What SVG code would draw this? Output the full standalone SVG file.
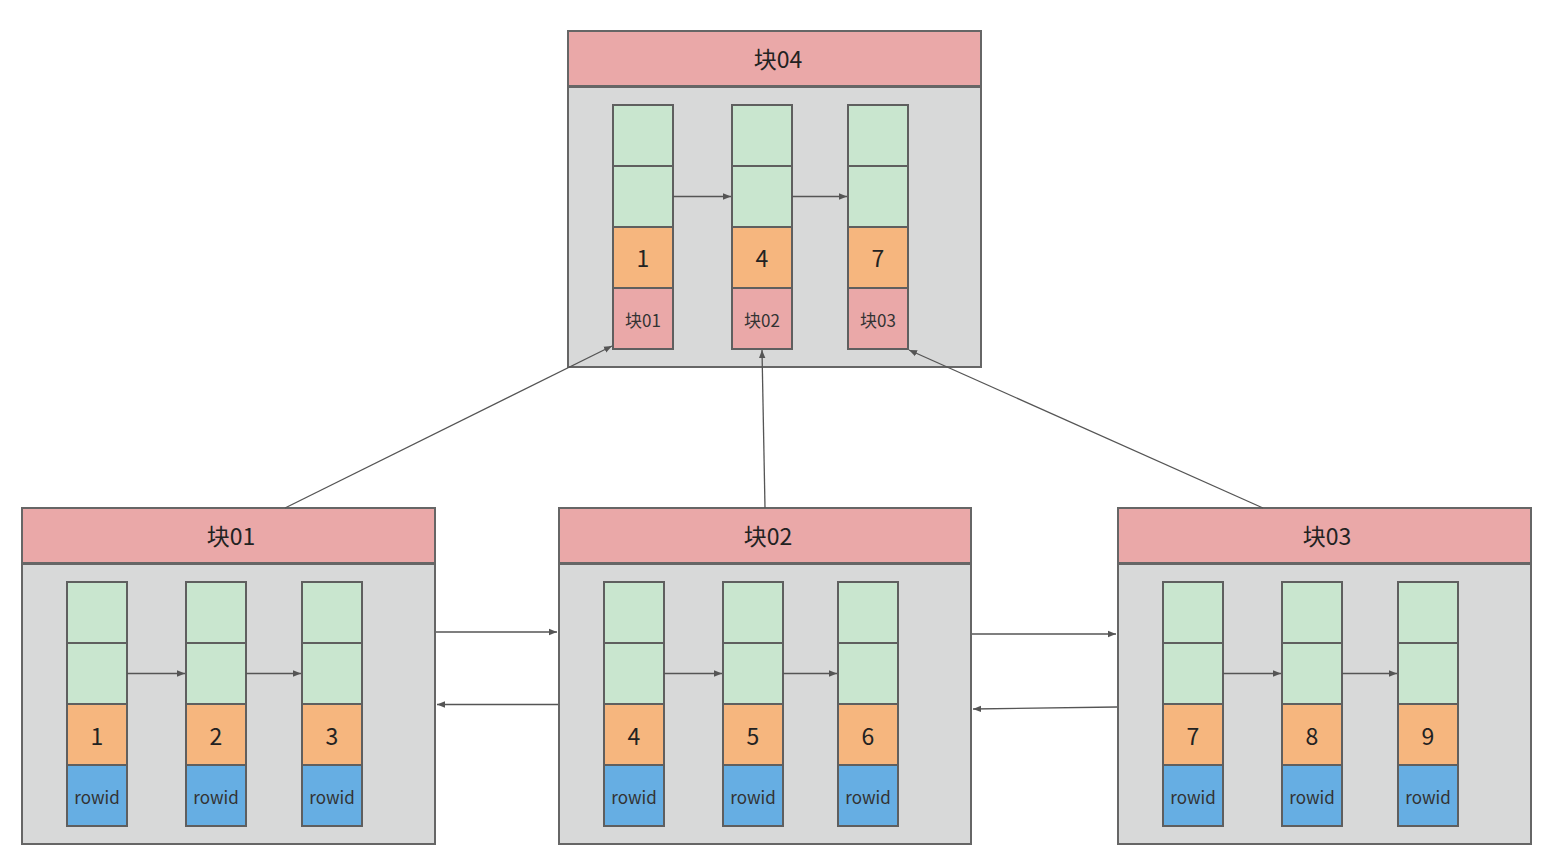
<svg xmlns="http://www.w3.org/2000/svg" width="1552" height="857" viewBox="0 0 1552 857">
<defs>
<style>
.hdr{fill:#eaa8a8;stroke:#666;stroke-width:2}
.body{fill:#d8d9d9;stroke:#666;stroke-width:2}
.g{fill:#c9e6cf;stroke:#5f5f5f;stroke-width:2}
.o{fill:#f6b67e;stroke:#5f5f5f;stroke-width:2}
.b{fill:#66aee3;stroke:#5f5f5f;stroke-width:2}
.p{fill:#eaa8a8;stroke:#5f5f5f;stroke-width:2}
text{font-family:"Noto Sans CJK SC","Noto Sans",sans-serif;fill:#222;text-anchor:middle;dominant-baseline:central}
.t1{font-size:23px}
.t2{font-size:23px}
.t3{font-size:17px;fill:#333}
.ln{stroke:#555;stroke-width:1.3;fill:none;marker-end:url(#ah)}
</style>
<marker id="ah" markerWidth="10" markerHeight="8" refX="8" refY="4" orient="auto" markerUnits="userSpaceOnUse">
<path d="M0,0.8 L8,4 L0,7.2 Z" fill="#555"/>
</marker>
<g id="colG">
<rect class="g" x="0" y="0" width="60" height="61"/>
<rect class="g" x="0" y="61" width="60" height="61"/>
</g>
</defs>

<g id="blk04">
<rect class="hdr" x="568" y="31" width="413" height="55"/>
<text class="t1" x="778" y="58">块04</text>
<rect class="body" x="568" y="87" width="413" height="280"/>
<g transform="translate(613,105)"><use href="#colG"/><rect class="o" x="0" y="122" width="60" height="61"/><rect class="p" x="0" y="183" width="60" height="61"/><text class="t2" x="30" y="152">1</text><text class="t3" x="30" y="214">块01</text></g>
<g transform="translate(732,105)"><use href="#colG"/><rect class="o" x="0" y="122" width="60" height="61"/><rect class="p" x="0" y="183" width="60" height="61"/><text class="t2" x="30" y="152">4</text><text class="t3" x="30" y="214">块02</text></g>
<g transform="translate(848,105)"><use href="#colG"/><rect class="o" x="0" y="122" width="60" height="61"/><rect class="p" x="0" y="183" width="60" height="61"/><text class="t2" x="30" y="152">7</text><text class="t3" x="30" y="214">块03</text></g>
</g>

<g id="blk01">
<rect class="hdr" x="22" y="508" width="413" height="55"/>
<text class="t1" x="231" y="535">块01</text>
<rect class="body" x="22" y="564" width="413" height="280"/>
<g transform="translate(67,582)"><use href="#colG"/><rect class="o" x="0" y="122" width="60" height="61"/><rect class="b" x="0" y="183" width="60" height="61"/><text class="t2" x="30" y="153">1</text><text class="t3" x="30" y="214">rowid</text></g>
<g transform="translate(186,582)"><use href="#colG"/><rect class="o" x="0" y="122" width="60" height="61"/><rect class="b" x="0" y="183" width="60" height="61"/><text class="t2" x="30" y="153">2</text><text class="t3" x="30" y="214">rowid</text></g>
<g transform="translate(302,582)"><use href="#colG"/><rect class="o" x="0" y="122" width="60" height="61"/><rect class="b" x="0" y="183" width="60" height="61"/><text class="t2" x="30" y="153">3</text><text class="t3" x="30" y="214">rowid</text></g>
</g>

<g id="blk02">
<rect class="hdr" x="559" y="508" width="412" height="55"/>
<text class="t1" x="768" y="535">块02</text>
<rect class="body" x="559" y="564" width="412" height="280"/>
<g transform="translate(604,582)"><use href="#colG"/><rect class="o" x="0" y="122" width="60" height="61"/><rect class="b" x="0" y="183" width="60" height="61"/><text class="t2" x="30" y="153">4</text><text class="t3" x="30" y="214">rowid</text></g>
<g transform="translate(723,582)"><use href="#colG"/><rect class="o" x="0" y="122" width="60" height="61"/><rect class="b" x="0" y="183" width="60" height="61"/><text class="t2" x="30" y="153">5</text><text class="t3" x="30" y="214">rowid</text></g>
<g transform="translate(838,582)"><use href="#colG"/><rect class="o" x="0" y="122" width="60" height="61"/><rect class="b" x="0" y="183" width="60" height="61"/><text class="t2" x="30" y="153">6</text><text class="t3" x="30" y="214">rowid</text></g>
</g>

<g id="blk03">
<rect class="hdr" x="1118" y="508" width="413" height="55"/>
<text class="t1" x="1327" y="535">块03</text>
<rect class="body" x="1118" y="564" width="413" height="280"/>
<g transform="translate(1163,582)"><use href="#colG"/><rect class="o" x="0" y="122" width="60" height="61"/><rect class="b" x="0" y="183" width="60" height="61"/><text class="t2" x="30" y="153">7</text><text class="t3" x="30" y="214">rowid</text></g>
<g transform="translate(1282,582)"><use href="#colG"/><rect class="o" x="0" y="122" width="60" height="61"/><rect class="b" x="0" y="183" width="60" height="61"/><text class="t2" x="30" y="153">8</text><text class="t3" x="30" y="214">rowid</text></g>
<g transform="translate(1398,582)"><use href="#colG"/><rect class="o" x="0" y="122" width="60" height="61"/><rect class="b" x="0" y="183" width="60" height="61"/><text class="t2" x="30" y="153">9</text><text class="t3" x="30" y="214">rowid</text></g>
</g>

<g id="connectors">
<line class="ln" x1="673" y1="196.5" x2="731" y2="196.5"/>
<line class="ln" x1="792" y1="196.5" x2="847" y2="196.5"/>
<line class="ln" x1="127" y1="673.5" x2="185" y2="673.5"/>
<line class="ln" x1="246" y1="673.5" x2="301" y2="673.5"/>
<line class="ln" x1="664" y1="673.5" x2="722" y2="673.5"/>
<line class="ln" x1="783" y1="673.5" x2="837" y2="673.5"/>
<line class="ln" x1="1223" y1="673.5" x2="1281" y2="673.5"/>
<line class="ln" x1="1342" y1="673.5" x2="1397" y2="673.5"/>
<line class="ln" x1="436" y1="632" x2="557" y2="632"/>
<line class="ln" x1="558" y1="704.5" x2="437" y2="704.5"/>
<line class="ln" x1="972" y1="634" x2="1116" y2="634"/>
<line class="ln" x1="1117" y1="707" x2="973" y2="709"/>
<line class="ln" x1="285" y1="508" x2="612" y2="346"/>
<line class="ln" x1="765" y1="508" x2="762" y2="350"/>
<line class="ln" x1="1263" y1="508" x2="909" y2="350"/>
</g>
</svg>
